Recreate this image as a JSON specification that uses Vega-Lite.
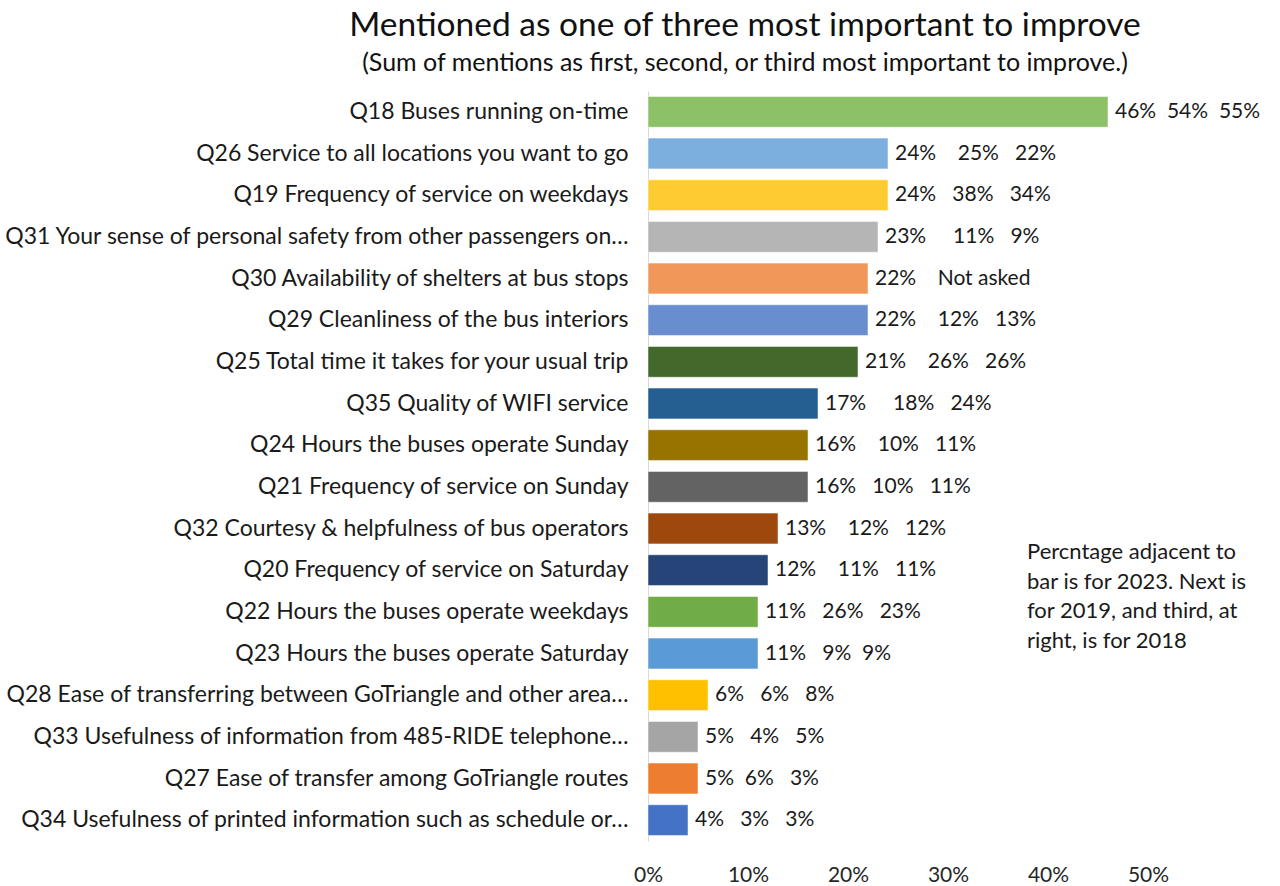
{
  "$schema": "https://vega.github.io/schema/vega-lite/v6.json",
  "width": 500,
  "height": 750,
  "autosize": {"type": "none"},
  "padding": {"left": 648, "top": 91, "right": 132, "bottom": 45},
  "background": "white",
  "config": {
    "font": "Lato",
    "view": {"stroke": null}
  },
  "title": {
    "text": "Mentioned as one of three most important to improve",
    "subtitle": "(Sum of mentions as first, second, or third most important to improve.)",
    "anchor": "middle",
    "frame": "group",
    "dx": -153,
    "font": "Lato",
    "fontSize": 33.5,
    "fontWeight": "normal",
    "color": "#111111",
    "subtitleFont": "Lato",
    "subtitleFontSize": 25,
    "subtitleColor": "#111111",
    "subtitlePadding": 8,
    "offset": 14
  },
  "data": {
    "values": [
      {"q": "Q18 Buses running on-time", "v2023": 0.46, "label": "46%\u00a0\u00a054%\u00a0\u00a055%"},
      {"q": "Q26 Service to all locations you want to go", "v2023": 0.24, "label": "24%\u00a0\u00a0\u00a0\u00a025%\u00a0\u00a0\u00a022%"},
      {"q": "Q19 Frequency of service on weekdays", "v2023": 0.24, "label": "24%\u00a0\u00a0\u00a038%\u00a0\u00a0\u00a034%"},
      {"q": "Q31 Your sense of personal safety from other passengers on…", "v2023": 0.23, "label": "23%\u00a0\u00a0\u00a0\u00a0\u00a011%\u00a0\u00a0\u00a09%"},
      {"q": "Q30 Availability of shelters at bus stops", "v2023": 0.22, "label": "22%\u00a0\u00a0\u00a0\u00a0Not asked"},
      {"q": "Q29 Cleanliness of the bus interiors", "v2023": 0.22, "label": "22%\u00a0\u00a0\u00a0\u00a012%\u00a0\u00a0\u00a013%"},
      {"q": "Q25 Total time it takes for your usual trip", "v2023": 0.21, "label": "21%\u00a0\u00a0\u00a0\u00a026%\u00a0\u00a0\u00a026%"},
      {"q": "Q35 Quality of WIFI service", "v2023": 0.17, "label": "17%\u00a0\u00a0\u00a0\u00a0\u00a018%\u00a0\u00a0\u00a024%"},
      {"q": "Q24 Hours the buses operate Sunday", "v2023": 0.16, "label": "16%\u00a0\u00a0\u00a0\u00a010%\u00a0\u00a0\u00a011%"},
      {"q": "Q21 Frequency of service on Sunday", "v2023": 0.16, "label": "16%\u00a0\u00a0\u00a010%\u00a0\u00a0\u00a011%"},
      {"q": "Q32 Courtesy & helpfulness of bus operators", "v2023": 0.13, "label": "13%\u00a0\u00a0\u00a0\u00a012%\u00a0\u00a0\u00a012%"},
      {"q": "Q20 Frequency of service on Saturday", "v2023": 0.12, "label": "12%\u00a0\u00a0\u00a0\u00a011%\u00a0\u00a0\u00a011%"},
      {"q": "Q22 Hours the buses operate weekdays", "v2023": 0.11, "label": "11%\u00a0\u00a0\u00a026%\u00a0\u00a0\u00a023%"},
      {"q": "Q23 Hours the buses operate Saturday", "v2023": 0.11, "label": "11%\u00a0\u00a0\u00a09%\u00a0\u00a09%"},
      {"q": "Q28 Ease of transferring between GoTriangle and other area…", "v2023": 0.06, "label": "6%\u00a0\u00a0\u00a06%\u00a0\u00a0\u00a08%"},
      {"q": "Q33 Usefulness of information from 485-RIDE telephone…", "v2023": 0.05, "label": "5%\u00a0\u00a0\u00a04%\u00a0\u00a0\u00a05%"},
      {"q": "Q27 Ease of transfer among GoTriangle routes", "v2023": 0.05, "label": "5%\u00a0\u00a06%\u00a0\u00a0\u00a03%"},
      {"q": "Q34 Usefulness of printed information such as schedule or…", "v2023": 0.04, "label": "4%\u00a0\u00a0\u00a03%\u00a0\u00a0\u00a03%"}
    ]
  },
  "encoding": {
    "y": {
      "field": "q",
      "type": "nominal",
      "sort": null,
      "title": null,
      "scale": {"paddingInner": 0.26, "paddingOuter": 0.13},
      "axis": {
        "domain": true,
        "domainColor": "#d9d9d9",
        "domainWidth": 1,
        "ticks": false,
        "labelPadding": 20,
        "labelLimit": 700,
        "labelFont": "Lato",
        "labelFontSize": 23,
        "labelColor": "#1a1a1a"
      }
    }
  },
  "layer": [
    {
      "mark": {"type": "bar", "stroke": "white", "strokeOpacity": 0.5, "strokeWidth": 1},
      "encoding": {
        "x": {
          "field": "v2023",
          "type": "quantitative",
          "title": null,
          "scale": {"domain": [0, 0.5], "nice": false},
          "axis": {
            "format": ".0%",
            "values": [0, 0.1, 0.2, 0.3, 0.4, 0.5],
            "grid": false,
            "domain": false,
            "ticks": false,
            "labelPadding": 23,
            "labelFont": "Lato",
            "labelFontSize": 21,
            "labelColor": "#262626",
            "labelFlush": false
          }
        },
        "color": {
          "field": "q",
          "type": "nominal",
          "legend": null,
          "scale": {
            "domain": [
              "Q18 Buses running on-time",
              "Q26 Service to all locations you want to go",
              "Q19 Frequency of service on weekdays",
              "Q31 Your sense of personal safety from other passengers on…",
              "Q30 Availability of shelters at bus stops",
              "Q29 Cleanliness of the bus interiors",
              "Q25 Total time it takes for your usual trip",
              "Q35 Quality of WIFI service",
              "Q24 Hours the buses operate Sunday",
              "Q21 Frequency of service on Sunday",
              "Q32 Courtesy & helpfulness of bus operators",
              "Q20 Frequency of service on Saturday",
              "Q22 Hours the buses operate weekdays",
              "Q23 Hours the buses operate Saturday",
              "Q28 Ease of transferring between GoTriangle and other area…",
              "Q33 Usefulness of information from 485-RIDE telephone…",
              "Q27 Ease of transfer among GoTriangle routes",
              "Q34 Usefulness of printed information such as schedule or…"
            ],
            "range": [
              "#8CC168", "#7CAFDD", "#FFCB33", "#B5B5B5", "#F1975A", "#698ED0",
              "#43682B", "#255E91", "#997300", "#636363", "#9E480E", "#264478",
              "#70AD47", "#5B9BD5", "#FFC000", "#A5A5A5", "#ED7D31", "#4472C4"
            ]
          }
        }
      }
    },
    {
      "mark": {"type": "text", "align": "left", "baseline": "middle", "dx": 7, "font": "Lato", "fontSize": 21, "color": "#1a1a1a"},
      "encoding": {
        "x": {"field": "v2023", "type": "quantitative"},
        "text": {"field": "label"}
      }
    },
    {
      "data": {"values": [{"note": ["Percntage adjacent to", "bar is for 2023. Next is", "for 2019, and third, at", "right, is for 2018"], "xpos": 0.379, "row": "Q20 Frequency of service on Saturday"}]},
      "mark": {"type": "text", "align": "left", "baseline": "top", "dy": -28, "lineHeight": 29.5, "font": "Lato", "fontSize": 22, "color": "#1a1a1a"},
      "encoding": {
        "x": {"field": "xpos", "type": "quantitative"},
        "y": {"field": "row", "type": "nominal"},
        "text": {"field": "note"}
      }
    }
  ]
}
